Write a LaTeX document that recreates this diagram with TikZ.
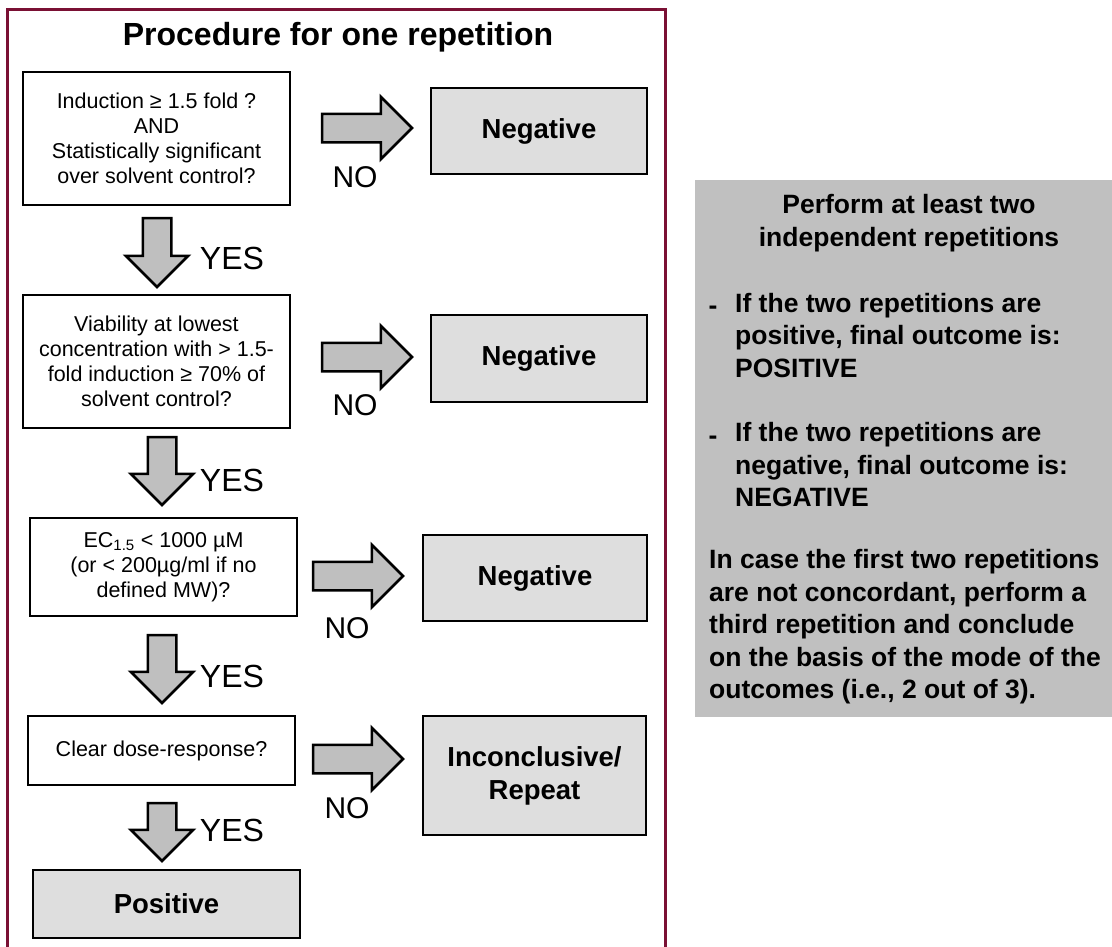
\documentclass[tikz,border=0pt]{standalone}
\usepackage{fontspec}
\setmainfont{Liberation Sans}
\usetikzlibrary{shapes.arrows}
\definecolor{framered}{RGB}{122,16,52}
\definecolor{boxgray}{RGB}{222,222,222}
\definecolor{arrgray}{RGB}{191,191,191}
\definecolor{panelgray}{RGB}{192,192,192}
\tikzset{
  qbox/.style={draw, line width=2.5pt, fill=white, inner sep=0pt, minimum width=267pt, minimum height=#1, align=center, font=\fontsize{21.5}{25}\selectfont},
  obox/.style={draw, line width=2.5pt, fill=boxgray, inner sep=0pt, align=center, font=\bfseries\fontsize{27.5}{33}\selectfont},
  barrow/.style={single arrow, draw=black, line width=2.5pt, fill=arrgray, inner xsep=0pt, inner ysep=13pt, single arrow head extend=17pt, minimum height=#1, outer sep=0pt},
  lbl/.style={inner sep=0pt, font=\fontsize{#1}{#1}\selectfont},
  ptxt/.style={inner sep=0pt, align=left, font=\bfseries\fontsize{26.5}{32.5}\selectfont}
}
\begin{document}
\begin{tikzpicture}[x=1pt, y=-1pt]
  \useasboundingbox (0,0) rectangle (1112,946);
  \fill[panelgray] (695,180) rectangle (1115,717);
  \draw[framered, line width=3pt] (7,9.5) rectangle (665.5,980);

  \node[font=\bfseries\fontsize{32}{38}\selectfont] (ttl) at (338,37) {Procedure for one repetition};

  \node[qbox=133pt] (q1) at (156.5,138.5) {Induction ≥ 1.5 fold ?\\AND\\Statistically significant\\over solvent control?};
  \node[qbox=133pt] (q2) at (156.5,361.5) {Viability at lowest\\concentration with > 1.5-\\fold induction ≥ 70\% of\\solvent control?};
  \node[qbox=98pt] (q3) at (163.5,567) {EC\textsubscript{1.5} < 1000 µM\\(or < 200µg/ml if no\\defined MW)?};
  \node[qbox=69pt] (q4) at (161.5,750.5) {Clear dose-response?};
  \node[obox, minimum width=267pt, minimum height=68pt] (pos) at (166.5,904) {Positive};

  \node[obox, minimum width=216pt, minimum height=86pt] (n1) at (539,131) {Negative};
  \node[obox, minimum width=216pt, minimum height=87pt] (n2) at (539,358.5) {Negative};
  \node[obox, minimum width=224pt, minimum height=86pt] (n3) at (535,578) {Negative};
  \node[obox, minimum width=223pt, minimum height=119pt] (inc) at (534.5,775.5) {Inconclusive/\\Repeat};

  \node[barrow=69pt, rotate=-90, anchor=tail] (d1) at (157,218) {};
  \node[barrow=68pt, rotate=-90, anchor=tail] (d2) at (162,437) {};
  \node[barrow=68pt, rotate=-90, anchor=tail] (d3) at (162,635) {};
  \node[barrow=58pt, rotate=-90, anchor=tail] (d4) at (162,803) {};
  \node[lbl=32] (yes1) at (232,258) {YES};
  \node[lbl=32] (yes2) at (232,480) {YES};
  \node[lbl=32] (yes3) at (232,676) {YES};
  \node[lbl=32] (yes4) at (232,830) {YES};

  \node[barrow=90pt, anchor=tail] (r1) at (322,128) {};
  \node[barrow=90pt, anchor=tail] (r2) at (322,357) {};
  \node[barrow=90pt, anchor=tail] (r3) at (313,576) {};
  \node[barrow=90pt, anchor=tail] (r4) at (313,759) {};
  \node[lbl=30] (no1) at (355,177) {NO};
  \node[lbl=30] (no2) at (355,405) {NO};
  \node[lbl=30] (no3) at (347,628) {NO};
  \node[lbl=30] (no4) at (347,808) {NO};

  \node[ptxt, align=center] (hd) at (909,223) {Perform at least two\\independent repetitions};
  \node[ptxt] (m1) at (713,310) {-};
  \node[ptxt, anchor=west] (b1) at (735,335.5) {If the two repetitions are\\positive, final outcome is:\\POSITIVE};
  \node[ptxt] (m2) at (713,440) {-};
  \node[ptxt, anchor=west] (b2) at (735,465) {If the two repetitions are\\negative, final outcome is:\\NEGATIVE};
  \node[ptxt, anchor=west] (cc) at (709,627) {In case the first two repetitions\\are not concordant, perform a\\third repetition and conclude\\on the basis of the mode of the\\outcomes (i.e., 2 out of 3).};
\end{tikzpicture}
\end{document}
